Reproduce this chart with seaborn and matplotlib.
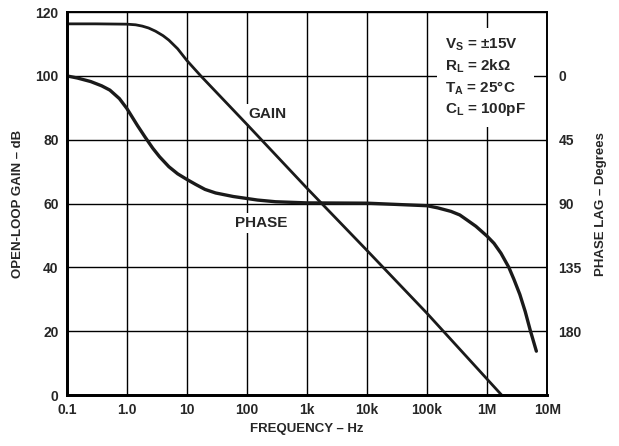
import numpy as np
import pandas as pd
import seaborn as sns
import matplotlib
matplotlib.use('Agg')
import matplotlib.pyplot as plt

# open-loop gain (dB) vs frequency (Hz)
gain_freq = [0.1, 0.3, 1.0, 1.4, 1.8, 2.3, 3.0, 4.0, 5.0, 7.0, 10, 17, 100, 1e3, 1e4, 1e5, 1e6, 1.75e6]
gain_db = [116.3, 116.3, 116.2, 116.0, 115.6, 115.0, 114.0, 112.6, 111.2, 108.5, 104.8, 100, 84.8, 64.8, 45.3,
           25.6, 5.0, 0.0]

# phase lag (degrees) vs frequency (Hz)
phase_freq = [0.1, 0.15, 0.25, 0.38, 0.52, 0.75, 1.0, 1.5, 2.0, 2.7, 3.5, 5.0, 7.0, 10, 14, 20, 30, 59, 150,
              300, 1e3, 1e4, 1e5, 1.5e5, 2.5e5, 3.5e5, 4.6e5, 6.5e5, 1e6, 1.3e6, 1.7e6, 2.3e6, 2.8e6, 3.5e6,
              4.3e6, 5.2e6, 6.6e6]
phase_deg = [0, 1.5, 4, 7, 10, 16, 23, 35, 43, 51, 57, 64, 69, 73, 76.5, 80, 82.5, 85, 87.5,
             88.7, 89.5, 89.7, 91.5, 93, 95.5, 98, 101.5, 106, 113, 118, 125, 135, 143.5, 154,
             166, 179, 194]

x_ticks = [0.1, 1, 10, 100, 1e3, 1e4, 1e5, 1e6, 1e7]
x_labels = ['0.1', '1.0', '10', '100', '1k', '10k', '100k', '1M', '10M']
gain_ticks = [0, 20, 40, 60, 80, 100, 120]
phase_ticks = [0, 45, 90, 135, 180]

sns.set_style('white')
plt.rcParams['font.family'] = ['Liberation Sans', 'DejaVu Sans']
plt.rcParams['font.weight'] = 'bold'
plt.rcParams['mathtext.fontset'] = 'custom'
plt.rcParams['mathtext.bf'] = 'Liberation Sans:bold'
plt.rcParams['mathtext.rm'] = 'Liberation Sans:bold'
plt.rcParams['mathtext.default'] = 'bf'

fig = plt.figure(figsize=(6.19, 4.46), dpi=100)
ax = fig.add_axes([0.108, 0.114, 0.776, 0.859])
ax.set_xscale('log')

gain = pd.DataFrame({'f': gain_freq, 'g': gain_db})
sns.lineplot(data=gain, x='f', y='g', ax=ax, color='#1a1a1a', lw=2, zorder=3)

ax.set_xlim(0.1, 1e7)
ax.set_ylim(0, 120)
ax.set_xticks(x_ticks)
ax.set_xticklabels(x_labels)
ax.minorticks_off()
ax.set_yticks(gain_ticks)
ax.grid(True, which='major', color='black', lw=1)
ax.set_axisbelow(True)
ax.tick_params(length=0, labelsize=10, pad=6)
for lab in ax.get_xticklabels() + ax.get_yticklabels():
    lab.set_fontweight('bold')
ax.set_xlabel('FREQUENCY – Hz', fontsize=9.5, fontweight='bold', labelpad=4)
ax.set_ylabel('OPEN-LOOP GAIN – dB', fontsize=9.5, fontweight='bold', labelpad=8)

ax2 = ax.twinx()
phase = pd.DataFrame({'f': phase_freq, 'p': phase_deg})
sns.lineplot(data=phase, x='f', y='p', ax=ax2, color='#1a1a1a', lw=2.4)
ax2.set_ylim(225, -45)
ax2.set_yticks(phase_ticks)
ax2.tick_params(length=0, labelsize=10, pad=8)
for lab in ax2.get_yticklabels():
    lab.set_fontweight('bold')
ax2.set_ylabel('PHASE LAG – Degrees', fontsize=9.5, fontweight='bold', labelpad=10)
ax2.grid(False)

for a in (ax, ax2):
    for side, sp in a.spines.items():
        sp.set_color('black')
        sp.set_visible(True)
        sp.set_linewidth(2 if side in ('left', 'bottom') else 1.2)

ax.text(215, 88, 'GAIN', fontsize=11, fontweight='bold', ha='center', va='center',
        bbox=dict(facecolor='white', edgecolor='none', pad=2), zorder=2)
ax.text(175, 54, 'PHASE', fontsize=11, fontweight='bold', ha='center', va='center',
        bbox=dict(facecolor='white', edgecolor='none', pad=2), zorder=2)

cond = ('V$_{S}$ = ±15V\n'
        'R$_{L}$ = 2kΩ\n'
        'T$_{A}$ = 25°C\n'
        'C$_{L}$ = 100pF')
ax.text(0.7875, 0.937, cond, transform=ax.transAxes, fontsize=11, fontweight='bold',
        ha='left', va='top', linespacing=1.37,
        bbox=dict(facecolor='white', edgecolor='none', pad=6), zorder=2)

fig.savefig('out.png', dpi=100)
